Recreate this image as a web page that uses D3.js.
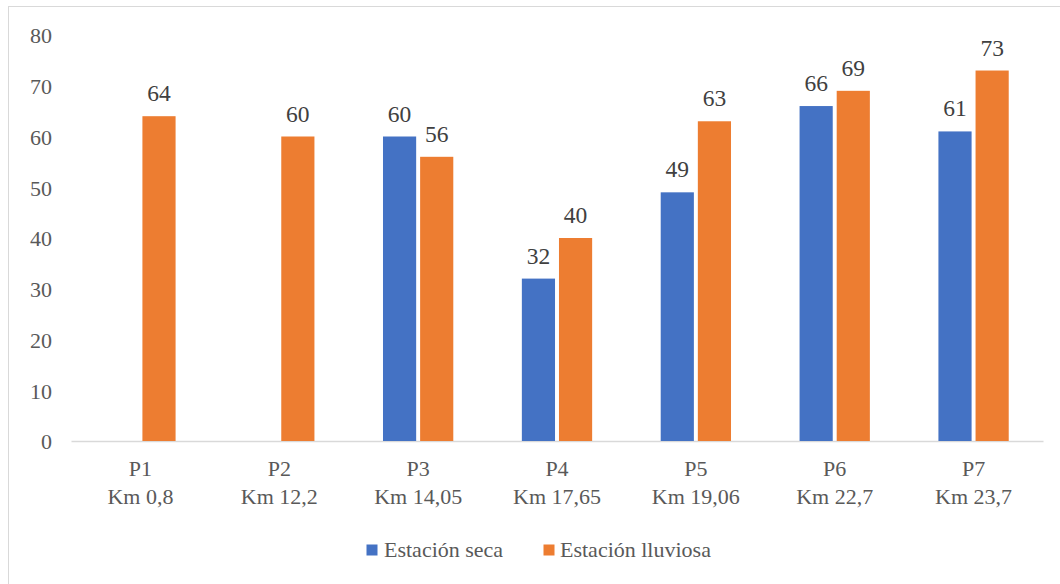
<!DOCTYPE html>
<html>
<head>
<meta charset="utf-8">
<script src="https://cdn.jsdelivr.net/npm/d3@7"></script>
<style>
  html, body { margin: 0; padding: 0; background: #fff; }
  svg { display: block; }
  svg text { font-family: "Liberation Serif", "Tinos", "Times New Roman", "DejaVu Serif", serif !important; }
</style>
</head>
<body>
<svg id="chart" width="1060" height="584"></svg>
<script>
// Sampling points along the route
const puntos = ["P1", "P2", "P3", "P4", "P5", "P6", "P7"];
const kilometros = ["Km 0,8", "Km 12,2", "Km 14,05", "Km 17,65", "Km 19,06", "Km 22,7", "Km 23,7"];
// Values per season (null = no measurement)
const estacionSeca = [null, null, 60, 32, 49, 66, 61];
const estacionLluviosa = [64, 60, 56, 40, 63, 69, 73];
const series = ["Estación seca", "Estación lluviosa"];
const colores = ["#4472C4", "#ED7D31"];
const yTicks = [0, 10, 20, 30, 40, 50, 60, 70, 80];

(function () {
  const svg = d3.select("#chart");

  // Chart frame
  svg.append("rect")
    .attr("x", 8.5).attr("y", 6.5)
    .attr("width", 1060).attr("height", 600)
    .attr("fill", "none").attr("stroke", "#d9d9d9").attr("stroke-width", 1);

  const plotLeft = 71, plotRight = 1043, plotTop = 35, plotBottom = 441;

  const x0 = d3.scaleBand().domain(puntos).range([plotLeft, plotRight]).padding(0);
  const barW = 31.4, gap = 7.5;
  const x1 = d3.scaleBand().domain(series)
    .range([-(barW + gap / 2), barW + gap / 2])
    .paddingInner(gap / (2 * barW + gap)).paddingOuter(0);
  const y = d3.scaleLinear().domain([0, 80]).range([plotBottom, plotTop]);

  // Y tick labels
  const yAxis = d3.axisLeft(y).tickValues(yTicks).tickSize(0).tickPadding(0);
  const gy = svg.append("g").attr("transform", "translate(52,0)").call(yAxis);
  gy.select(".domain").remove();
  gy.selectAll("text")
    .attr("font-size", 22).attr("fill", "#595959")
    .attr("dy", "0.36em");

  // Category axis
  const xAxis = d3.axisBottom(x0).tickSize(0).tickFormat(() => "");
  const gx = svg.append("g").attr("transform", `translate(0,${plotBottom})`).call(xAxis);
  gx.select(".domain").attr("stroke", "#d9d9d9").attr("stroke-width", 1.5);
  gx.selectAll(".tick").each(function (d, i) {
    const t = d3.select(this).append("text")
      .attr("font-size", 22).attr("fill", "#595959")
      .attr("text-anchor", "middle");
    t.append("tspan").attr("x", 0).attr("y", 35).text(puntos[i]);
    t.append("tspan").attr("x", 0).attr("y", 63).text(kilometros[i]);
  });

  // Bars and value labels
  const data = puntos.map((p, i) => ({ p, vals: [estacionSeca[i], estacionLluviosa[i]] }));
  const groups = svg.append("g").selectAll("g").data(data).join("g")
    .attr("transform", d => `translate(${x0(d.p) + x0.bandwidth() / 2},0)`);

  groups.each(function (d) {
    const g = d3.select(this);
    d.vals.forEach((v, s) => {
      if (v == null) return;
      const bx = x1(series[s]);
      g.append("rect")
        .attr("x", bx).attr("y", y(v))
        .attr("width", x1.bandwidth()).attr("height", y(0) - y(v))
        .attr("fill", colores[s]);
      g.append("text")
        .attr("x", bx + x1.bandwidth() / 2).attr("y", y(v) - 15)
        .attr("text-anchor", "middle")
        .attr("font-size", 23.5).attr("fill", "#404040")
        .text(v);
    });
  });

  // Legend
  const legend = svg.append("g");
  const legItems = [{ x: 366.5, tx: 384 }, { x: 543.5, tx: 560 }];
  series.forEach((s, i) => {
    legend.append("rect")
      .attr("x", legItems[i].x).attr("y", 544.5)
      .attr("width", 11).attr("height", 11).attr("fill", colores[i]);
    legend.append("text")
      .attr("x", legItems[i].tx).attr("y", 557)
      .attr("font-size", 22).attr("fill", "#595959")
      .text(s);
  });
})();
</script>
</body>
</html>
